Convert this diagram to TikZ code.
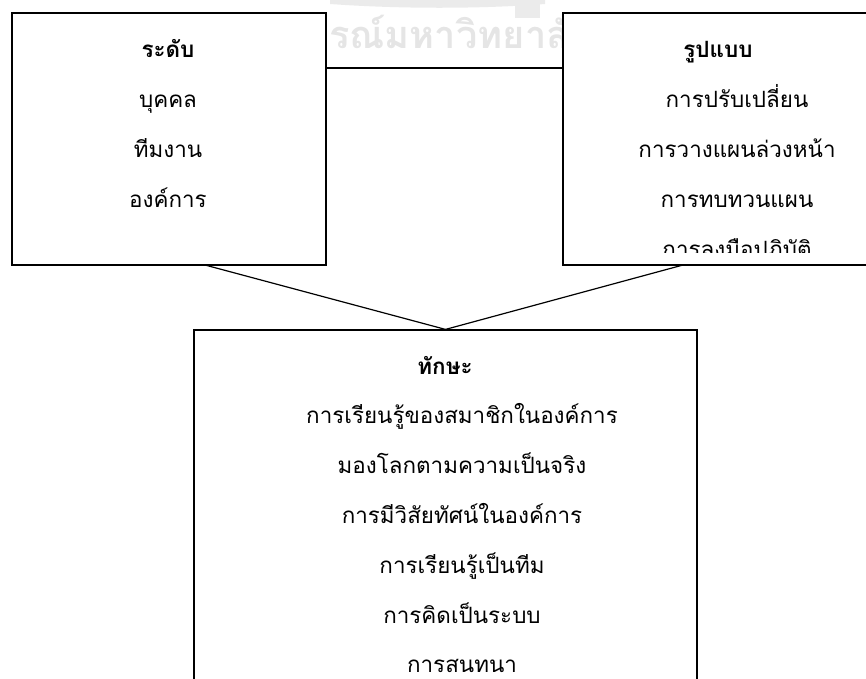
\documentclass[tikz,border=0pt]{standalone}
\usepackage{fontspec}
\newfontfamily\thai[Script=Thai]{Loma}
\newcommand\thaif{\thai\fontsize{22.4}{26}\selectfont}
\newcommand\thaib{\thai\bfseries\fontsize{22.4}{26}\selectfont}
\newcommand\thaiwm{\thai\bfseries\fontsize{38}{42}\selectfont}
\tikzset{
  box/.style={draw, line width=1.2pt, fill=white, inner sep=0pt},
  ttl/.style={font=\thaib, anchor=base, inner sep=0pt},
  itm/.style={font=\thaif, anchor=base, inner sep=0pt},
  link/.style={line width=1.2pt},
  wm/.style={font=\thaiwm, text=black!10, inner sep=0pt},
  wmshape/.style={fill=black!8, draw=none}
}
\begin{document}
\begin{tikzpicture}[x=1pt,y=-1pt]
\useasboundingbox (0,0) rectangle (866,678);
\clip (0,0) rectangle (866,678);
% faint watermark (visible part between the upper boxes)
\fill[wmshape] (330,0) -- (545,0) -- (545,4) .. controls (480,9) and (400,9) .. (330,4) -- cycle;
\fill[wmshape] (515,0) rectangle (540,18);
\node[wm, anchor=base west] (wm) at (329,48) {รณ์มหาวิทยาลัย};
% boxes
\node[box, minimum width=314pt, minimum height=252pt] (L) at (169,139) {};
\node[box, minimum width=340pt, minimum height=252pt] (R) at (733,139) {};
\node[box, minimum width=503pt, minimum height=400pt] (B) at (445.5,530) {};
% connectors
\coordinate (hy) at (0,68);
\coordinate (Lc) at (205,265);
\coordinate (Rc) at (683,265);
\draw[link] (hy -| L.east) -- (hy -| R.west);
\draw[link] (Lc) -- (B.north) -- (Rc);
% left box text
\node[ttl] (l0) at (168,57) {ระดับ};
\node[itm] (l1) at (168,107) {บุคคล};
\node[itm] (l2) at (168,157) {ทีมงาน};
\node[itm] (l3) at (168,207) {องค์การ};
% right box text
\node[ttl] (r0) at (718,57) {รูปแบบ};
\node[itm] (r1) at (737,107) {การปรับเปลี่ยน};
\node[itm] (r2) at (737,157) {การวางแผนล่วงหน้า};
\node[itm] (r3) at (737,207) {การทบทวนแผน};
\begin{scope}
\clip (564,225) rectangle (866,252);
\node[itm] (r4) at (737,257) {การลงมือปฏิบัติ};
\end{scope}
% bottom box text
\node[ttl] (b0) at (445,374) {ทักษะ};
\node[itm] (b1) at (462,423) {การเรียนรู้ของสมาชิกในองค์การ};
\node[itm] (b2) at (462,473) {มองโลกตามความเป็นจริง};
\node[itm] (b3) at (462,523) {การมีวิสัยทัศน์ในองค์การ};
\node[itm] (b4) at (462,573) {การเรียนรู้เป็นทีม};
\node[itm] (b5) at (462,623) {การคิดเป็นระบบ};
\node[itm] (b6) at (462,672) {การสนทนา};
\end{tikzpicture}
\end{document}
